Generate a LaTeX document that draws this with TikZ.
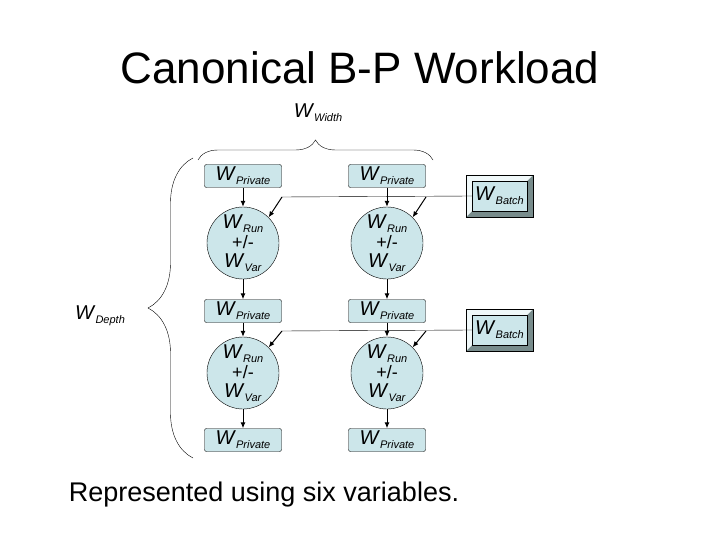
\documentclass[tikz,border=0pt]{standalone}
\usepackage{fontspec}
\setmainfont{Liberation Sans}
\usetikzlibrary{decorations.pathreplacing,arrows.meta}
\definecolor{fillc}{RGB}{204,230,234}
\definecolor{bevd}{RGB}{120,140,140}
\begin{document}
\begin{tikzpicture}[x=1pt,y=-1pt,
  priv/.style={draw,fill=fillc,rounded corners=2pt,minimum width=77pt,minimum height=23pt,inner sep=0pt},
  runc/.style={draw,fill=fillc,circle,minimum size=72pt,inner sep=0pt,align=center,font=\fontsize{18}{17}\selectfont},
  arr/.style={-{Latex[length=6pt,width=5pt]},line width=1pt},
  lab/.style={font=\fontsize{18}{18}\selectfont}]
\useasboundingbox (0,0) rectangle (720,540);
\newcommand{\WW}[1]{{\fontsize{20}{20}\selectfont\textit{W}}\raisebox{-4pt}{\fontsize{11}{11}\selectfont\textit{#1}}}
\node[font=\fontsize{44}{46}\selectfont] (title) at (360,68) {Canonical B-P Workload};
% privates
\foreach \c/\x in {a/243,b/387}{
  \node[priv,lab] (p1\c) at (\x,176) {\WW{Private}};
  \node[runc] (r1\c) at (\x,243) {\WW{Run}\\[2pt]+/-\\[2pt]\WW{Var}};
  \node[priv,lab] (p2\c) at (\x,311) {\WW{Private}};
  \node[runc] (r2\c) at (\x,373) {\WW{Run}\\[2pt]+/-\\[2pt]\WW{Var}};
  \node[priv,lab] (p3\c) at (\x,440) {\WW{Private}};
  \draw[arr] (p1\c) -- (r1\c);
  \draw[arr] (r1\c) -- (p2\c);
  \draw[arr] (p2\c) -- (r2\c);
  \draw[arr] (r2\c) -- (p3\c);
}
% batch boxes
\foreach \i/\y in {1/196,2/330}{
  \fill[bevd] (466,\y-21) rectangle (533,\y+21);
  \fill[white!70!fillc] (466,\y-21) -- (533,\y-21) -- (527,\y-15) -- (472,\y-15) -- (472,\y+15) -- (466,\y+21) -- cycle;
  \node[draw,fill=fillc,minimum width=55pt,minimum height=30pt,inner sep=0pt,lab] (b\i) at (499.5,\y) {\WW{Batch}};
  \draw (466,\y-21) rectangle (533,\y+21);
  \coordinate (la\i) at (282,\y+1);
  \coordinate (lb\i) at (426,\y+1);
}
\draw (la1) -- (b1.west);
\draw (la2) -- (b2.west);
\draw[arr] (la1) -- (r1a.45);
\draw[arr] (lb1) -- (r1b.45);
\draw[arr] (la2) -- (r2a.45);
\draw[arr] (lb2) -- (r2b.45);
% braces
\coordinate (bt1) at (198,160); \coordinate (bt2) at (433,160);
\draw[decorate,decoration={brace,amplitude=20pt}] (bt1) -- (bt2);
\node[lab] (ww) at (318,113) {\WW{Width}};
\coordinate (bl1) at (193,458); \coordinate (bl2) at (193,158);
\draw[decorate,decoration={brace,amplitude=45pt}] (bl1) -- (bl2);
\node[lab] (wd) at (100,316) {\WW{Depth}};
\node[font=\fontsize{27}{29}\selectfont] (foot) at (264,495) {Represented using six variables.};
\end{tikzpicture}
\end{document}
